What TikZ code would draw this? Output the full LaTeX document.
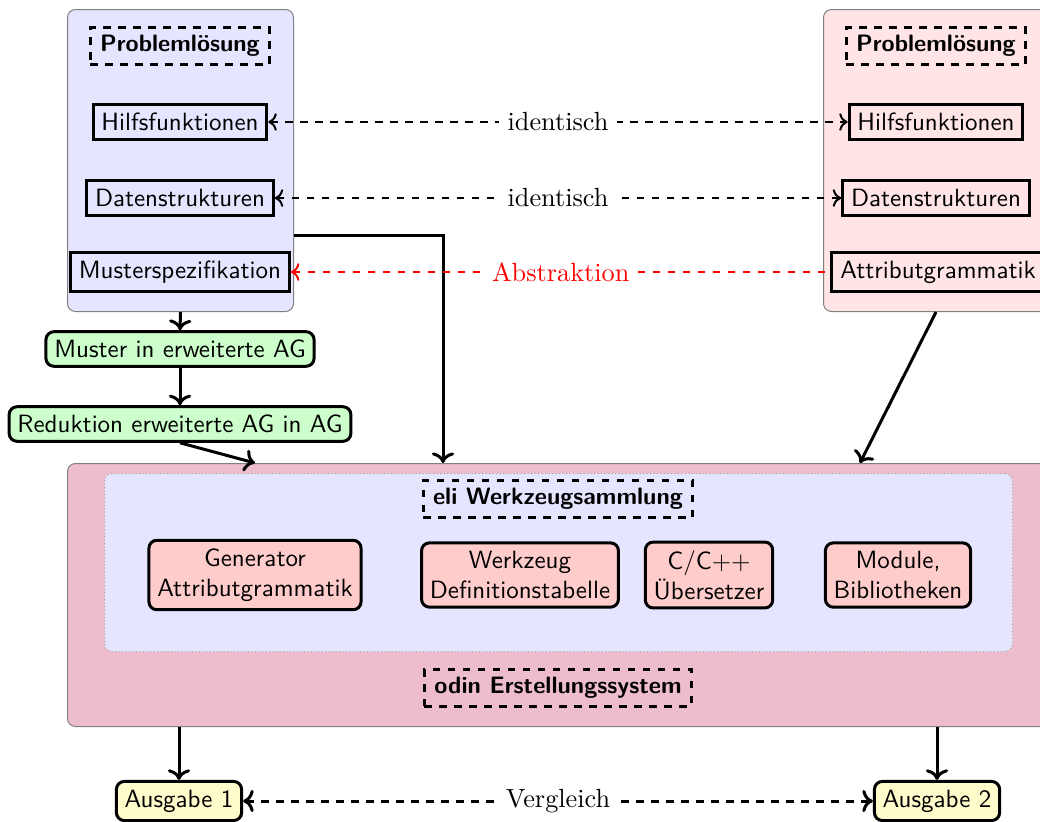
\documentclass[tikz,border=0pt]{standalone}
\usepackage{fontspec}
\usetikzlibrary{arrows.meta}
\definecolor{odinfill}{RGB}{237,189,205}
\begin{document}
\begin{tikzpicture}[x=0.4pt,y=-0.4pt,
  every node/.style={font=\sffamily},
  cont/.style={draw=gray, line width=0.4pt, rounded corners=3.2pt, anchor=north west, inner sep=0pt},
  plainbox/.style={draw, very thick},
  headbox/.style={draw, very thick, dashed, font=\sffamily\fontsize{9.5}{11}\selectfont\bfseries, inner xsep=4pt, inner ysep=3pt},
  procbox/.style={draw, very thick, rounded corners=3.2pt, align=center},
  conn/.style={very thick, ->},
  link/.style={thick, dashed, <->},
  lbl/.style={fill=white, font=\rmfamily\fontsize{10.5}{12}\selectfont}
]
\useasboundingbox (0,0) rectangle (1040,821);

% containers
\node[cont, fill=blue!10, minimum width=90.4pt, minimum height=120.8pt] (lcont) at (67,9) {};
\node[cont, fill=red!10, minimum width=98.8pt, minimum height=120.8pt] (rcont) at (823,9) {};
\node[cont, fill=odinfill, minimum width=400pt, minimum height=105.2pt] (odin) at (67,463) {};
\node[cont, draw=gray!70, densely dotted, fill=blue!10, minimum width=363.2pt, minimum height=71.2pt] (eli) at (104,473) {};

% left column
\node[headbox] (lProb) at (180,46) {Problemlösung};
\node[plainbox] (lHilf) at (180,122) {Hilfsfunktionen};
\node[plainbox] (lDat) at (180,198) {Datenstrukturen};
\node[plainbox] (lMus) at (180,272) {Musterspezifikation};

% right column
\node[headbox] (rProb) at (936,46) {Problemlösung};
\node[plainbox] (rHilf) at (936,122) {Hilfsfunktionen};
\node[plainbox] (rDat) at (936,198) {Datenstrukturen};
\node[plainbox] (rAttr) at (938,272) {Attributgrammatik};

% transformation steps
\node[procbox, fill=green!20] (must) at (180,349) {Muster in erweiterte AG};
\node[procbox, fill=green!20] (redu) at (180,424) {Reduktion erweiterte AG in AG};

% tool collection
\node[headbox] (eliT) at (558,499) {eli Werkzeugsammlung};
\node[procbox, fill=red!20] (gen) at (255,575) {Generator\\Attributgrammatik};
\node[procbox, fill=red!20] (wz) at (520,575) {Werkzeug\\Definitionstabelle};
\node[procbox, fill=red!20] (cc) at (709,575) {C/C++\\Übersetzer};
\node[procbox, fill=red!20] (mod) at (898,575) {Module,\\Bibliotheken};
\node[headbox] (odinT) at (558,688) {odin Erstellungssystem};

% outputs
\node[procbox, fill=yellow!20] (aus1) at (179,801) {Ausgabe 1};
\node[procbox, fill=yellow!20] (aus2) at (937,801) {Ausgabe 2};

% helper coordinates
\coordinate (jL) at (443,235);
\coordinate (odinL) at (255,463);
\coordinate (odinR) at (860,463);

% connectors
\draw[conn] (lcont.south) -- (must.north);
\draw[conn] (must.south) -- (redu.north);
\draw[conn] (redu.south) -- (odinL |- odin.north);
\draw[conn] (lcont.east |- jL) -- (jL) -- (jL |- odin.north);
\draw[conn] (rHilf |- rcont.south) -- (odinR |- odin.north);
\draw[conn] (aus1 |- odin.south) -- (aus1.north);
\draw[conn] (aus2 |- odin.south) -- (aus2.north);

\draw[link] (lHilf.east) -- node[lbl]{identisch} (rHilf.west);
\draw[link] (lDat.east) -- node[lbl]{identisch} (rDat.west);
\draw[thick, dashed, red, <-] (lMus.east) -- node[lbl, text=red]{Abstraktion} (rAttr.west);
\draw[very thick, dashed, <->] (aus1.east) -- node[lbl]{Vergleich} (aus2.west);
\end{tikzpicture}
\end{document}
